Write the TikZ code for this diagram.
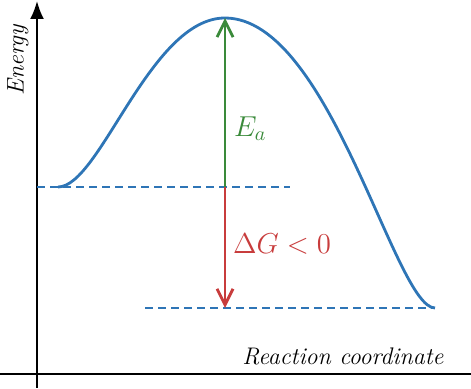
\documentclass[tikz,border=0pt]{standalone}
\usetikzlibrary{arrows.meta}
\definecolor{curvablue}{HTML}{2E75B6}
\definecolor{verde}{HTML}{3A8A3A}
\definecolor{rojo}{HTML}{C83C3C}
\begin{document}
\begin{tikzpicture}[
      x=0.5pt, y=-0.5pt,
      every node/.style={font=\large},
      eje/.style={line width=1pt, black},
      nivel/.style={curvablue, line width=0.8pt, dash pattern=on 4pt off 2.5pt},
      curva/.style={curvablue, line width=1.4pt},
      flecha/.style={line width=1.4pt, -{Straight Barb[length=8pt,width=8pt,line width=1.4pt]}},
      etiqueta/.style={font=\Large}
    ]
    \useasboundingbox (0,0) rectangle (471,389);
    % Puntos de referencia
    \coordinate (origen) at (37,388);
    \coordinate (arriba) at (37,1);
    \coordinate (ejeizq) at (0,374);
    \coordinate (ejeder) at (471,374);
    \coordinate (inicio) at (58,187);
    \coordinate (pico) at (225,18);
    \coordinate (fin) at (435,308);
    \coordinate (medio) at (225,187);
    \coordinate (bajo) at (225,308);
    \coordinate (nivelizq) at (37,187);
    \coordinate (nivelizqfin) at (290,187);
    \coordinate (nivelder) at (145,308);
    % Ejes
    \draw[eje, -{Latex[length=9pt,width=7pt]}] (origen) -- (arriba);
    \draw[eje] (ejeizq) -- (ejeder);
    \node[rotate=90] (energia) at (18,60) {\textit{Energy}};
    \node (coord) at (343,356) {\textit{Reaction coordinate}};
    % Niveles de energia
    \draw[nivel] (nivelizq) -- (nivelizqfin);
    \draw[nivel] (nivelder) -- (fin);
    % Curva de reaccion
    \draw[curva] (inicio) .. controls (100,187) and (150,18) .. (pico)
                 .. controls (330,18) and (395,308) .. (fin);
    % Flechas
    \draw[flecha, verde] (medio) -- (pico);
    \draw[flecha, rojo] (medio) -- (bajo);
    \node[etiqueta, verde, anchor=west] (ea) at (227,129) {$E_a$};
    \node[etiqueta, rojo] (dg) at (282,244) {$\Delta G < 0$};
  \end{tikzpicture}
\end{document}
